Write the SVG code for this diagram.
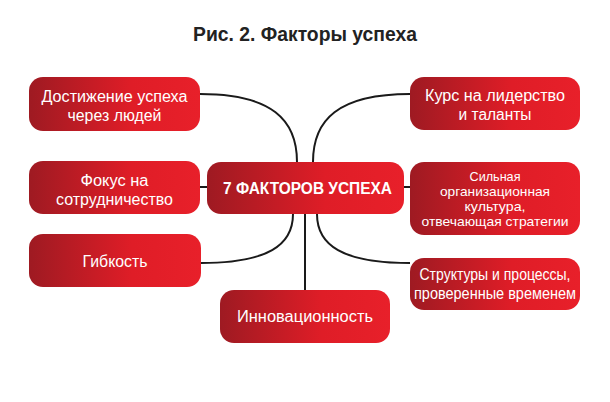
<svg xmlns="http://www.w3.org/2000/svg" width="610" height="402" viewBox="0 0 610 402">
<defs>
<linearGradient id="g" x1="0" y1="0" x2="1" y2="0">
<stop offset="0" stop-color="#9e1a22"/>
<stop offset="0.6" stop-color="#df1d27"/>
<stop offset="1" stop-color="#e8202a"/>
</linearGradient>
</defs>
<style>
.box{fill:url(#g)}
.t{fill:#fff;font-family:"Liberation Sans",Arial,sans-serif;font-size:16px;text-anchor:middle}
.s{font-size:13px}
.b{font-weight:bold}
.c{fill:none;stroke:#1a1a1a;stroke-width:2}
</style>
<rect width="610" height="402" fill="#fff"/>
<text x="305" y="41" font-family="'Liberation Sans',Arial,sans-serif" font-weight="bold" font-size="20.5" fill="#222" text-anchor="middle" textLength="224" lengthAdjust="spacingAndGlyphs">Рис. 2. Факторы успеха</text>
<g id="connectors">
<path class="c" d="M200,94 C272,94 297,120 297,162"/>
<path class="c" d="M410,94 C338,94 313,120 313,162"/>
<path class="c" d="M200,187 L207,187"/>
<path class="c" d="M404,187 L410,187"/>
<path class="c" d="M201,263 C268,263 293,245 293,214"/>
<path class="c" d="M410,263 C342,263 317,245 317,214"/>
<path class="c" d="M305,214 L305,290"/>
</g>
<g id="center">
<rect class="box" x="207" y="162" width="197" height="52" rx="14"/>
<text class="t b" x="307.5" y="194" font-size="17.5" textLength="169" lengthAdjust="spacingAndGlyphs">7 ФАКТОРОВ УСПЕХА</text>
</g>
<g id="n1">
<rect class="box" x="29" y="77" width="171" height="54" rx="14"/>
<text class="t" x="114.5" y="102" textLength="146" lengthAdjust="spacingAndGlyphs">Достижение успеха</text>
<text class="t" x="114.5" y="121" textLength="94" lengthAdjust="spacingAndGlyphs">через людей</text>
</g>
<g id="n2">
<rect class="box" x="29" y="161" width="171" height="53" rx="14"/>
<text class="t" x="114.5" y="186" textLength="68" lengthAdjust="spacingAndGlyphs">Фокус на</text>
<text class="t" x="114.5" y="205" textLength="117" lengthAdjust="spacingAndGlyphs">сотрудничество</text>
</g>
<g id="n3">
<rect class="box" x="29" y="234" width="172" height="53" rx="14"/>
<text class="t" x="115" y="267" textLength="65" lengthAdjust="spacingAndGlyphs">Гибкость</text>
</g>
<g id="n4">
<rect class="box" x="220" y="290" width="170" height="53" rx="14"/>
<text class="t" x="305" y="322" textLength="136" lengthAdjust="spacingAndGlyphs">Инновационность</text>
</g>
<g id="n5">
<rect class="box" x="410" y="77" width="170" height="53" rx="14"/>
<text class="t" x="495" y="101" textLength="140" lengthAdjust="spacingAndGlyphs">Курс на лидерство</text>
<text class="t" x="495" y="120" textLength="73" lengthAdjust="spacingAndGlyphs">и таланты</text>
</g>
<g id="n6">
<rect class="box" x="410" y="162" width="170" height="73" rx="14"/>
<text class="t s" x="495" y="181" textLength="51" lengthAdjust="spacingAndGlyphs">Сильная</text>
<text class="t s" x="495" y="196" textLength="110" lengthAdjust="spacingAndGlyphs">организационная</text>
<text class="t s" x="495" y="211" textLength="61" lengthAdjust="spacingAndGlyphs">культура,</text>
<text class="t s" x="495" y="226" textLength="147" lengthAdjust="spacingAndGlyphs">отвечающая стратегии</text>
</g>
<g id="n7">
<rect class="box" x="410" y="258" width="170" height="52" rx="14"/>
<text class="t" x="495" y="280" textLength="151" lengthAdjust="spacingAndGlyphs">Структуры и процессы,</text>
<text class="t" x="495" y="299" textLength="162" lengthAdjust="spacingAndGlyphs">проверенные временем</text>
</g>
</svg>
